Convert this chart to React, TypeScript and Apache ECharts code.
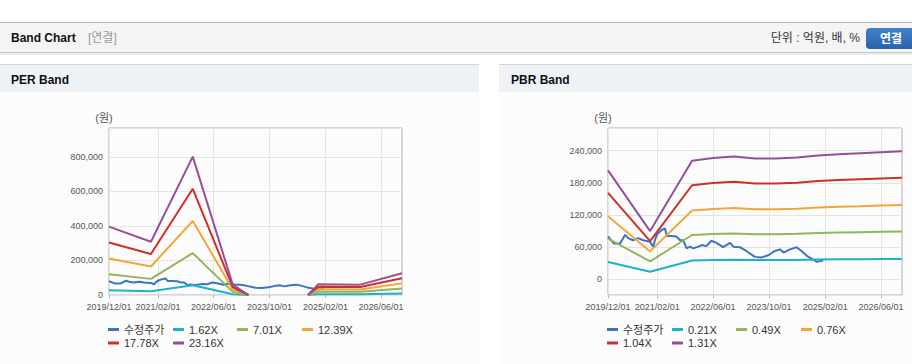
import React, { useEffect, useRef } from 'react';
import * as echarts from 'echarts';

// ---------- data ----------
const xTickDates = ['2019-12-01', '2021-02-01', '2022-06-01', '2023-10-01', '2025-02-01', '2026-06-01'];
const xMin = '2019-12-01';
const xMax = '2026-12-01';

const priceDates = [
  '2019-12-01', '2020-01-20', '2020-03-15', '2020-04-28', '2020-05-25', '2020-07-05', '2020-08-20',
  '2020-10-01', '2020-12-01', '2020-12-28', '2021-01-12', '2021-01-28', '2021-03-10', '2021-04-10',
  '2021-04-25', '2021-06-05', '2021-07-18', '2021-08-18', '2021-09-15', '2021-10-15', '2021-11-12',
  '2021-12-12', '2022-01-25', '2022-02-25', '2022-04-05', '2022-05-18', '2022-07-01', '2022-08-28',
  '2022-10-28', '2022-11-25', '2023-01-20', '2023-03-18', '2023-06-01', '2023-07-28', '2023-09-25',
  '2023-11-20', '2024-01-05', '2024-02-05', '2024-04-01', '2024-05-28', '2024-07-10', '2024-08-25',
  '2024-10-20', '2024-11-18', '2025-01-15',
];
const priceValues = [
  80000, 67000, 67000, 83000, 77000, 73000, 77000,
  73000, 70000, 61000, 73000, 83000, 92000, 95000,
  81000, 81000, 80000, 73000, 73000, 58000, 61000,
  58000, 61000, 64000, 62000, 72000, 68000, 60000,
  68000, 61000, 60000, 53000, 42000, 41000, 45000,
  53000, 56000, 50000, 56000, 60000, 53000, 44000,
  37000, 33000, 35000,
];

const perBandDates = [
  '2019-12-01', '2020-12-01', '2021-12-01', '2022-11-15', '2023-04-01',
  '2023-12-01', '2024-09-01', '2024-12-01', '2025-12-01', '2026-12-01',
];
const per162 = [27700, 21600, 56100, 4200, 0, null, 0, 4400, 4200, 8800];
const per701 = [119900, 93500, 242800, 18200, 0, null, 0, 19100, 18200, 38100];
const per1239 = [211900, 165300, 429100, 32100, 0, null, 0, 33700, 32100, 67400];
const per1778 = [304000, 237200, 615700, 46100, 0, null, 0, 48400, 46100, 96700];
const per2316 = [396000, 309000, 802000, 60000, 0, null, 0, 63000, 60000, 126000];

const pbrBandDates = [
  '2019-12-01', '2020-12-01', '2021-12-01', '2022-06-01', '2022-12-01', '2023-06-01', '2023-12-01',
  '2024-06-01', '2024-12-01', '2025-06-01', '2025-12-01', '2026-06-01', '2026-12-01',
];
const pbr021 = [32500, 14400, 35400, 36200, 36700, 36100, 36100, 36400, 37000, 37400, 37700, 38000, 38200];
const pbr049 = [75900, 33700, 82700, 84500, 85700, 84200, 84200, 84900, 86400, 87200, 87900, 88600, 89200];
const pbr076 = [117800, 52200, 128200, 131100, 132800, 130600, 130600, 131700, 134000, 135200, 136300, 137500, 138400];
const pbr104 = [161200, 71400, 175400, 179400, 181800, 178600, 178600, 180200, 183400, 185000, 186600, 188100, 189400];
const pbr131 = [203000, 90000, 221000, 226000, 229000, 225000, 225000, 227000, 231000, 233000, 235000, 237000, 238500];

const perNames = ['수정주가', '1.62X', '7.01X', '12.39X', '17.78X', '23.16X'];
const pbrNames = ['수정주가', '0.21X', '0.49X', '0.76X', '1.04X', '1.31X'];
const perYMax = 968000;
const pbrYMin = -29000;
const pbrYMax = 282000;

// ---------- styles ----------
const colors = ['#3b74c3', '#1cb2c8', '#92b65a', '#f4a53a', '#cf2f2a', '#94509a'];
const font = '"Liberation Sans", Arial, "Noto Sans CJK KR", sans-serif';
const legendCols = [0, 65, 129, 194];

const ts = (d: string) => echarts.time.parse(d).getTime();
const pad2 = (n: number) => (n < 10 ? '0' + n : '' + n);
const fmtDate = (v: number) => {
  const d = new Date(v);
  return d.getFullYear() + '/' + pad2(d.getMonth() + 1) + '/' + pad2(d.getDate());
};

function pairs(dates: string[], values: (number | null)[]) {
  return dates.map((d, i) => [ts(d), values[i] == null ? '-' : values[i]]);
}

function makeLegends(names: string[], left0: number, top0: number) {
  return names.map((n, i) => ({
    data: [n],
    left: left0 + legendCols[i % 4],
    top: top0 + Math.floor(i / 4) * 13.5,
    icon: 'rect',
    itemWidth: 11,
    itemHeight: 3,
    padding: 0,
    itemGap: 0,
    selectedMode: false,
    textStyle: { fontSize: 11, color: '#333', fontFamily: font },
  }));
}

function xAxisCfg(gridIndex: number) {
  const ticks = xTickDates.map(ts);
  return {
    type: 'value',
    gridIndex,
    min: ts(xMin),
    max: ts(xMax),
    axisLine: { show: false, onZero: false },
    axisTick: {
      show: true,
      length: 3,
      customValues: ticks,
      lineStyle: { color: '#b0b0b0' },
    },
    axisLabel: {
      customValues: ticks,
      formatter: (v: number) => fmtDate(v),
      fontSize: 9,
      color: '#555',
      fontFamily: font,
      margin: 7,
    },
    splitLine: { show: true, lineStyle: { color: '#e4e4e4', width: 1 } },
  };
}

function yAxisCfg(gridIndex: number, extra: any) {
  return {
    type: 'value',
    gridIndex,
    name: '(원)',
    nameLocation: 'end',
    nameGap: 5,
    nameTextStyle: { fontSize: 11, color: '#555', fontFamily: font, padding: [0, 10, 0, 0] },
    axisLine: { show: false },
    axisTick: { show: false },
    axisLabel: {
      fontSize: 9,
      color: '#555',
      fontFamily: font,
      margin: 6,
      showMaxLabel: false,
      formatter: (v: number) => v.toLocaleString('en-US'),
    },
    splitLine: { show: true, lineStyle: { color: '#e4e4e4', width: 1 } },
    ...extra,
  };
}

function lineSeries(name: string, data: any[], idx: number, axisIndex: number) {
  return {
    type: 'line',
    name,
    data,
    xAxisIndex: axisIndex,
    yAxisIndex: axisIndex,
    showSymbol: false,
    symbol: 'none',
    connectNulls: false,
    color: colors[idx],
    lineStyle: { width: 2, color: colors[idx] },
    itemStyle: { color: colors[idx] },
  };
}

export default function App() {
  const ref = useRef<HTMLDivElement>(null);

  useEffect(() => {
    if (!ref.current) return;
    const chart = echarts.init(ref.current, null, { renderer: 'svg' });

    const perBands = [per162, per701, per1239, per1778, per2316];
    const pbrBands = [pbr021, pbr049, pbr076, pbr104, pbr131];
    const priceData = pairs(priceDates, priceValues);

    const series: any[] = [];
    series.push(lineSeries(perNames[0], priceData, 0, 0));
    perBands.forEach((b, i) => series.push(lineSeries(perNames[i + 1], pairs(perBandDates, b), i + 1, 0)));
    series.push(lineSeries(pbrNames[0], priceData, 0, 1));
    pbrBands.forEach((b, i) => series.push(lineSeries(pbrNames[i + 1], pairs(pbrBandDates, b), i + 1, 1)));

    const btnGrad = new echarts.graphic.LinearGradient(0, 0, 0, 1, [
      { offset: 0, color: '#3f82cc' },
      { offset: 1, color: '#2a63a8' },
    ]);

    const graphic: any[] = [
      { type: 'rect', z: -10, silent: true, shape: { x: 0, y: 22, width: 912, height: 1 }, style: { fill: '#b9b9b9' } },
      { type: 'rect', z: -10, silent: true, shape: { x: 0, y: 23, width: 912, height: 29 }, style: { fill: '#f4f4f4' } },
      { type: 'rect', z: -10, silent: true, shape: { x: 0, y: 52, width: 912, height: 1 }, style: { fill: '#c6c6c6' } },
      { type: 'rect', z: -10, silent: true, shape: { x: 0, y: 53, width: 912, height: 2 }, style: { fill: '#ececec' } },
      { type: 'text', z: 5, x: 11, y: 38, style: { text: 'Band Chart', fill: '#111', font: `bold 12px ${font}`, verticalAlign: 'middle' } },
      { type: 'text', z: 5, x: 88, y: 38, style: { text: '[연결]', fill: '#9a9a9a', font: `12px ${font}`, verticalAlign: 'middle' } },
      { type: 'text', z: 5, x: 860, y: 38, style: { text: '단위 : 억원, 배, %', fill: '#333', font: `12px ${font}`, align: 'right', verticalAlign: 'middle' } },
      { type: 'rect', z: 5, shape: { x: 866, y: 28, width: 52, height: 21, r: 4 }, style: { fill: btnGrad } },
      { type: 'text', z: 6, x: 891, y: 38.5, style: { text: '연결', fill: '#fff', font: `bold 12px ${font}`, align: 'center', verticalAlign: 'middle' } },
      { type: 'rect', z: -10, silent: true, shape: { x: 0, y: 64, width: 479, height: 1 }, style: { fill: '#d3d3d3' } },
      { type: 'rect', z: -10, silent: true, shape: { x: 0, y: 65, width: 479, height: 27 }, style: { fill: '#eef2f7' } },
      { type: 'rect', z: -10, silent: true, shape: { x: 0, y: 92, width: 479, height: 272 }, style: { fill: '#fcfcfc' } },
      { type: 'text', z: 5, x: 11, y: 80, style: { text: 'PER Band', fill: '#111', font: `bold 12px ${font}`, verticalAlign: 'middle' } },
      { type: 'rect', z: -10, silent: true, shape: { x: 499, y: 64, width: 413, height: 1 }, style: { fill: '#d3d3d3' } },
      { type: 'rect', z: -10, silent: true, shape: { x: 499, y: 65, width: 413, height: 27 }, style: { fill: '#eef2f7' } },
      { type: 'rect', z: -10, silent: true, shape: { x: 499, y: 92, width: 413, height: 272 }, style: { fill: '#fcfcfc' } },
      { type: 'text', z: 5, x: 511, y: 80, style: { text: 'PBR Band', fill: '#111', font: `bold 12px ${font}`, verticalAlign: 'middle' } },
    ];

    chart.setOption({
      animation: false,
      backgroundColor: '#ffffff',
      textStyle: { fontFamily: font },
      graphic,
      grid: [
        { left: 109, top: 128, width: 293, height: 167, show: true, borderColor: '#b0b0b0', borderWidth: 1, backgroundColor: 'transparent' },
        { left: 608, top: 128, width: 294, height: 167, show: true, borderColor: '#b0b0b0', borderWidth: 1, backgroundColor: 'transparent' },
      ],
      xAxis: [xAxisCfg(0), xAxisCfg(1)],
      yAxis: [
        yAxisCfg(0, { min: 0, max: perYMax, interval: 200000 }),
        yAxisCfg(1, {
          min: pbrYMin,
          max: pbrYMax,
          splitNumber: 5,
          minInterval: 60000,
          maxInterval: 60000,
          axisLabel: {
            fontSize: 9,
            color: '#555',
            fontFamily: font,
            margin: 6,
            showMaxLabel: false,
            showMinLabel: false,
            formatter: (v: number) => v.toLocaleString('en-US'),
          },
        }),
      ],
      legend: [...makeLegends(perNames, 108, 324), ...makeLegends(pbrNames, 607, 324)],
      series,
    });

    return () => chart.dispose();
  }, []);

  return <div ref={ref} style={{ position: 'absolute', left: 0, top: 0, width: 912, height: 364 }} />;
}
